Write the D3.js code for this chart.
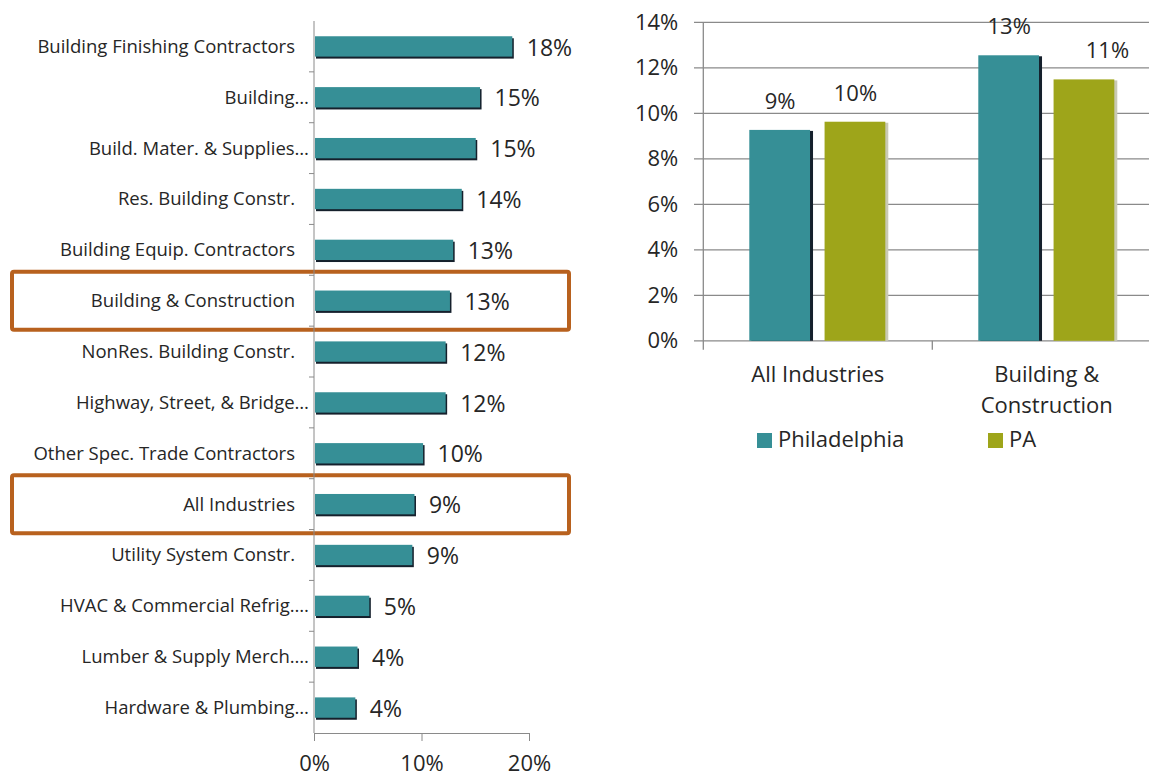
<!DOCTYPE html>
<html>
<head>
<meta charset="utf-8">
<script src="https://cdn.jsdelivr.net/npm/d3@7"></script>
<style>
  body { margin: 0; background: #fff; }
  text { font-family: "Open Sans", sans-serif; fill: #262626; }
</style>
</head>
<body>
<div id="chart"></div>
<script>
// Left chart: industries, growth share (Philadelphia)
const industries = [
    'Building Finishing Contractors',
    'Building…',
    'Build. Mater. & Supplies…',
    'Res. Building Constr.',
    'Building Equip. Contractors',
    'Building & Construction',
    'NonRes. Building Constr.',
    'Highway, Street, & Bridge…',
    'Other Spec. Trade Contractors',
    'All Industries',
    'Utility System Constr.',
    'HVAC & Commercial Refrig.…',
    'Lumber & Supply Merch.…',
    'Hardware & Plumbing…'
];
const industryValues = [0.184, 0.154, 0.150, 0.137, 0.129, 0.126, 0.122, 0.122, 0.101, 0.093, 0.091, 0.051, 0.040, 0.038];
const highlighted = ['Building & Construction', 'All Industries'];
const leftTicks = [0, 0.10, 0.20];

// Right chart: comparison Philadelphia vs PA
const groups = ['All Industries', 'Building & Construction'];
const groupLabels = [['All Industries'], ['Building &', 'Construction']];
const seriesNames = ['Philadelphia', 'PA'];
const phillyValues = [0.0927, 0.1255];
const paValues = [0.0963, 0.1149];
const rightTicks = [0, 0.02, 0.04, 0.06, 0.08, 0.10, 0.12, 0.14];

const colors = { Philadelphia: '#368f96', PA: '#9ea51a' };
const shadow = '#15202c';
const gridColor = '#8a8a8a';
const pct = d3.format('.0%');

const svgWidth = 1149;
const svgHeight = 776;

const svg = d3.select('#chart')
    .append('svg')
    .attr('width', svgWidth)
    .attr('height', svgHeight);

// ---------- Left horizontal bar chart ----------
const xLeft = d3.scaleLinear()
    .domain([0, 0.20])
    .range([314, 529]);
const yLeft = d3.scaleBand()
    .domain(industries)
    .range([21, 733])
    .paddingInner(0.6)
    .paddingOuter(0.3);

const left = svg.append('g');

// highlight boxes
left.selectAll('rect.hl')
    .data(highlighted)
    .enter()
    .append('rect')
    .attr('class', 'hl')
    .attr('x', 12)
    .attr('y', d => yLeft(d) + yLeft.bandwidth() / 2 - 29)
    .attr('width', 557)
    .attr('height', 58)
    .attr('rx', 2)
    .attr('fill', 'none')
    .attr('stroke', '#b8611e')
    .attr('stroke-width', 4);

// bottom axis
const xAxisLeft = d3.axisBottom(xLeft)
    .tickValues(leftTicks)
    .tickFormat(pct)
    .tickSize(8)
    .tickSizeOuter(0);
const gxl = left.append('g')
    .attr('transform', 'translate(0,733)')
    .call(xAxisLeft);
gxl.select('.domain').attr('stroke', gridColor);
gxl.selectAll('.tick line').attr('stroke', gridColor);
gxl.selectAll('.tick text')
    .attr('y', 22)
    .style('font-size', '22px')
    .attr('fill', '#262626');

// vertical axis line + ticks between the rows
left.append('line')
    .attr('x1', xLeft(0)).attr('x2', xLeft(0))
    .attr('y1', yLeft.range()[0]).attr('y2', yLeft.range()[1])
    .attr('stroke', gridColor);
const edges = industries.map((d, i) => yLeft.range()[0] + i * yLeft.step()).slice(1);
left.selectAll('line.ytick')
    .data(edges)
    .enter()
    .append('line')
    .attr('class', 'ytick')
    .attr('x1', xLeft(0) - 5).attr('x2', xLeft(0))
    .attr('y1', d => d).attr('y2', d => d)
    .attr('stroke', gridColor);

// bars with a dark edge
const rowData = industries.map((d, i) => ({ name: d, value: industryValues[i] }));
left.selectAll('rect.sh')
    .data(rowData)
    .enter()
    .append('rect')
    .attr('class', 'sh')
    .attr('x', xLeft(0) + 2)
    .attr('y', d => yLeft(d.name) + 2)
    .attr('width', d => xLeft(d.value) - xLeft(0))
    .attr('height', yLeft.bandwidth())
    .attr('fill', shadow);
left.selectAll('rect.bar')
    .data(rowData)
    .enter()
    .append('rect')
    .attr('class', 'bar')
    .attr('x', xLeft(0) + 1)
    .attr('y', d => yLeft(d.name))
    .attr('width', d => xLeft(d.value) - xLeft(0) - 0.5)
    .attr('height', yLeft.bandwidth())
    .attr('fill', colors.Philadelphia);

// category labels
left.selectAll('text.cat')
    .data(rowData)
    .enter()
    .append('text')
    .attr('class', 'cat')
    .attr('x', d => d.name.endsWith('…') ? xLeft(0) - 5 : xLeft(0) - 19)
    .attr('y', d => yLeft(d.name) + yLeft.bandwidth() / 2)
    .attr('dy', '0.35em')
    .attr('text-anchor', 'end')
    .style('font-size', '18.5px')
    .text(d => d.name);

// value labels
left.selectAll('text.val')
    .data(rowData)
    .enter()
    .append('text')
    .attr('class', 'val')
    .attr('x', d => xLeft(d.value) + 15)
    .attr('y', d => yLeft(d.name) + yLeft.bandwidth() / 2)
    .attr('dy', '0.4em')
    .style('font-size', '23px')
    .text(d => pct(d.value));

// ---------- Right grouped column chart ----------
const yRight = d3.scaleLinear()
    .domain([0, 0.14])
    .range([340.8, 22.3]);
const x0 = d3.scaleBand()
    .domain(groups)
    .range([703.3, 1161.3]);
const x1 = d3.scaleBand()
    .domain(seriesNames)
    .range([46, x0.bandwidth() - 46])
    .paddingInner(0.18);

const right = svg.append('g');

// gridlines
right.selectAll('line.grid')
    .data(rightTicks)
    .enter()
    .append('line')
    .attr('class', 'grid')
    .attr('x1', 694).attr('x2', svgWidth)
    .attr('y1', d => yRight(d)).attr('y2', d => yRight(d))
    .attr('stroke', gridColor)
    .attr('stroke-width', 1.3);

const yAxisRight = d3.axisLeft(yRight)
    .tickValues(rightTicks)
    .tickFormat(pct)
    .tickSize(0)
    .tickPadding(25);
const gyr = right.append('g')
    .attr('transform', `translate(${x0.range()[0]},0)`)
    .call(yAxisRight);
gyr.select('.domain').remove();
gyr.selectAll('.tick text')
    .style('font-size', '22px')
    .attr('fill', '#262626');

right.append('line')
    .attr('x1', x0.range()[0]).attr('x2', x0.range()[0])
    .attr('y1', yRight(0.14)).attr('y2', yRight(0) + 9)
    .attr('stroke', gridColor)
    .attr('stroke-width', 1.3);
right.append('line')
    .attr('x1', x0(groups[1])).attr('x2', x0(groups[1]))
    .attr('y1', yRight(0)).attr('y2', yRight(0) + 9)
    .attr('stroke', gridColor)
    .attr('stroke-width', 1.3);

const colData = [];
groups.forEach((g, i) => {
    colData.push({ group: g, series: 'Philadelphia', value: phillyValues[i] });
    colData.push({ group: g, series: 'PA', value: paValues[i] });
});

const cols = right.selectAll('g.col')
    .data(colData)
    .enter()
    .append('g')
    .attr('class', 'col')
    .attr('transform', d => `translate(${x0(d.group) + x1(d.series)},0)`);

cols.append('rect')
    .attr('x', 2)
    .attr('y', d => yRight(d.value) + 1)
    .attr('width', x1.bandwidth())
    .attr('height', d => yRight(0) - yRight(d.value) - 1)
    .attr('fill', d => d.series === 'Philadelphia' ? shadow : '#c9c9b4');
cols.append('rect')
    .attr('x', 0)
    .attr('y', d => yRight(d.value))
    .attr('width', x1.bandwidth() - 1)
    .attr('height', d => yRight(0) - yRight(d.value))
    .attr('fill', d => colors[d.series]);

// value labels (the last one is nudged right as in the original)
cols.append('text')
    .attr('x', d => x1.bandwidth() / 2 + (d.group === groups[1] && d.series === 'PA' ? 23 : 0))
    .attr('y', d => yRight(d.value) - 21)
    .attr('text-anchor', 'middle')
    .style('font-size', '22px')
    .text(d => pct(d.value));

// category labels
right.selectAll('text.grp')
    .data(groups)
    .enter()
    .append('text')
    .attr('class', 'grp')
    .attr('x', d => x0(d) + x0.bandwidth() / 2)
    .attr('y', 381.7)
    .attr('text-anchor', 'middle')
    .style('font-size', '22px')
    .selectAll('tspan')
    .data((d, i) => groupLabels[i])
    .enter()
    .append('tspan')
    .attr('x', function() { return d3.select(this.parentNode).attr('x'); })
    .attr('dy', (d, i) => i === 0 ? 0 : 31.6)
    .text(d => d);

// legend
const legendX = [757, 988];
const legend = right.selectAll('g.legend')
    .data(seriesNames)
    .enter()
    .append('g')
    .attr('class', 'legend')
    .attr('transform', (d, i) => `translate(${legendX[i]},433)`);
legend.append('rect')
    .attr('width', 15)
    .attr('height', 15)
    .attr('fill', d => colors[d]);
legend.append('text')
    .attr('x', 21)
    .attr('y', 14)
    .style('font-size', '22px')
    .text(d => d);
</script>
</body>
</html>
